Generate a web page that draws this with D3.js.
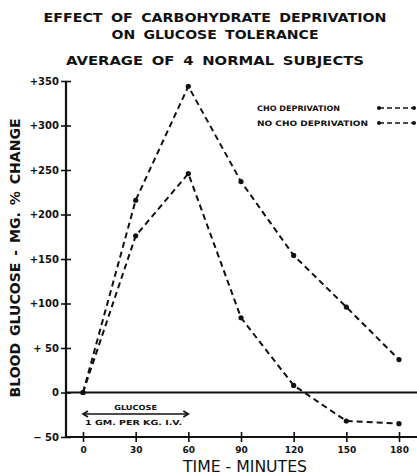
<!DOCTYPE html>
<html>
<head>
<meta charset="utf-8">
<script src="https://cdn.jsdelivr.net/npm/d3@7"></script>
<style>
  body { margin: 0; background: #fff; }
  svg text { font-family: "DejaVu Sans", "Liberation Sans", sans-serif; fill: #111; }
</style>
</head>
<body>
<div id="chart"></div>
<script>
// data
const minutes = [0, 30, 60, 90, 120, 150, 180];
const choDeprivation = [0, 216, 344, 237, 154, 96, 37];
const noChoDeprivation = [0, 176, 246, 84, 8, -32, -35];
const seriesNames = ["CHO DEPRIVATION", "NO CHO DEPRIVATION"];
const yTickValues = [-50, 0, 50, 100, 150, 200, 250, 300, 350];
const yTickLabels = ["\u2212 50", "0", "+ 50", "+100", "+150", "+200", "+250", "+300", "+350"];
const xTickLabels = ["0", "30", "60", "90", "120", "150", "180"];

const W = 417, H = 475;
const ink = "#111";

const svg = d3.select("#chart")
    .append("svg")
    .attr("width", W)
    .attr("height", H);

const x = d3.scaleLinear().domain([0, 180]).range([83, 399]);
const y = d3.scaleLinear().domain([-50, 350]).range([437, 81]);

const axisX = 66;      // where the vertical axis sits
const bottomY = y(-50);

// titles
const titles = [
    {t: "EFFECT OF CARBOHYDRATE DEPRIVATION", y: 22, len: 343},
    {t: "ON GLUCOSE TOLERANCE", y: 39, len: 207},
    {t: "AVERAGE OF 4 NORMAL SUBJECTS", y: 65, len: 298}
];
svg.selectAll(".title")
    .data(titles)
    .enter()
    .append("text")
    .attr("class", "title")
    .attr("x", 215)
    .attr("y", d => d.y)
    .attr("text-anchor", "middle")
    .attr("font-size", "12.5px")
    .attr("font-weight", "bold")
    .attr("word-spacing", "3px")
    .attr("textLength", d => d.len)
    .attr("lengthAdjust", "spacingAndGlyphs")
    .text(d => d.t);

// axis lines
svg.append("line")
    .attr("x1", axisX).attr("x2", axisX)
    .attr("y1", y(350)).attr("y2", bottomY)
    .attr("stroke", ink).attr("stroke-width", 2.2);
svg.append("line")
    .attr("x1", axisX).attr("x2", W)
    .attr("y1", bottomY).attr("y2", bottomY)
    .attr("stroke", ink).attr("stroke-width", 2.2);
svg.append("line")
    .attr("x1", axisX).attr("x2", W)
    .attr("y1", y(0)).attr("y2", y(0))
    .attr("stroke", ink).attr("stroke-width", 2);

// y axis
const gy = svg.append("g")
    .attr("transform", `translate(${axisX},0)`)
    .call(d3.axisLeft(y)
        .tickValues(yTickValues)
        .tickFormat((d, i) => yTickLabels[i])
        .tickSizeOuter(0));
gy.select(".domain").remove();
gy.selectAll(".tick line")
    .attr("x1", -5).attr("x2", 5)
    .attr("stroke", ink).attr("stroke-width", 1.6);
gy.selectAll(".tick text")
    .attr("x", -7)
    .attr("font-size", "10px")
    .attr("font-weight", "bold")
    .attr("font-family", "DejaVu Sans, sans-serif")
    .attr("fill", ink);

// x axis
const gx = svg.append("g")
    .attr("transform", `translate(0,${bottomY})`)
    .call(d3.axisBottom(x)
        .tickValues(minutes)
        .tickFormat((d, i) => xTickLabels[i])
        .tickSizeOuter(0));
gx.select(".domain").remove();
gx.selectAll(".tick line")
    .attr("y1", -5).attr("y2", 5)
    .attr("stroke", ink).attr("stroke-width", 1.6);
gx.selectAll(".tick text")
    .attr("y", 10)
    .attr("font-size", "9px")
    .attr("font-weight", "bold")
    .attr("font-family", "DejaVu Sans, sans-serif")
    .attr("fill", ink);

// axis titles
svg.append("text")
    .attr("transform", "translate(20,258) rotate(-90)")
    .attr("text-anchor", "middle")
    .attr("font-size", "14px")
    .attr("font-weight", "bold")
    .attr("word-spacing", "2px")
    .attr("textLength", 279)
    .attr("lengthAdjust", "spacingAndGlyphs")
    .text("BLOOD GLUCOSE - MG. % CHANGE");

svg.append("text")
    .attr("x", 245)
    .attr("y", 472)
    .attr("text-anchor", "middle")
    .attr("font-size", "16px")
    .attr("font-family", "Liberation Sans, sans-serif")
    .attr("textLength", 124)
    .attr("lengthAdjust", "spacingAndGlyphs")
    .text("TIME - MINUTES");

// series
const series = [choDeprivation, noChoDeprivation].map((vals, k) => ({
    name: seriesNames[k],
    points: minutes.map((m, i) => ({m: m, v: vals[i]}))
}));

const line = d3.line()
    .x(d => x(d.m))
    .y(d => y(d.v));

svg.selectAll(".series")
    .data(series)
    .enter()
    .append("path")
    .attr("class", "series")
    .attr("d", d => line(d.points))
    .attr("fill", "none")
    .attr("stroke", ink)
    .attr("stroke-width", 2)
    .attr("stroke-dasharray", "6,4");

series.forEach(s => {
    svg.selectAll(null)
        .data(s.points)
        .enter()
        .append("circle")
        .attr("cx", d => x(d.m))
        .attr("cy", d => y(d.v))
        .attr("r", 2.6)
        .attr("fill", ink);
});

// legend
const legend = svg.selectAll(".legend")
    .data(seriesNames)
    .enter()
    .append("g")
    .attr("class", "legend")
    .attr("transform", (d, i) => `translate(257,${111 + i * 15})`);
legend.append("text")
    .attr("x", 0)
    .attr("y", 0)
    .attr("font-size", "7.5px")
    .attr("font-weight", "bold")
    .attr("textLength", (d, i) => i === 0 ? 83 : 111)
    .attr("lengthAdjust", "spacingAndGlyphs")
    .text(d => d);
legend.append("line")
    .attr("x1", 122).attr("x2", 156)
    .attr("y1", -3).attr("y2", -3)
    .attr("stroke", ink)
    .attr("stroke-width", 1.6)
    .attr("stroke-dasharray", "5,3");
legend.append("circle").attr("cx", 122).attr("cy", -3).attr("r", 2).attr("fill", ink);
legend.append("circle").attr("cx", 157).attr("cy", -3).attr("r", 2).attr("fill", ink);

// glucose dose annotation
const arrowY = 414;
svg.append("line")
    .attr("x1", x(0)).attr("x2", x(60))
    .attr("y1", arrowY).attr("y2", arrowY)
    .attr("stroke", ink).attr("stroke-width", 1.6);
svg.append("path")
    .attr("d", `M${x(0) + 5},${arrowY - 3}L${x(0)},${arrowY}L${x(0) + 5},${arrowY + 3}`)
    .attr("fill", "none").attr("stroke", ink).attr("stroke-width", 1.6);
svg.append("path")
    .attr("d", `M${x(60) - 5},${arrowY - 3}L${x(60)},${arrowY}L${x(60) - 5},${arrowY + 3}`)
    .attr("fill", "none").attr("stroke", ink).attr("stroke-width", 1.6);
svg.append("text")
    .attr("x", (x(0) + x(60)) / 2)
    .attr("y", 410)
    .attr("text-anchor", "middle")
    .attr("font-size", "7px")
    .attr("font-weight", "bold")
    .attr("textLength", 43)
    .attr("lengthAdjust", "spacingAndGlyphs")
    .text("GLUCOSE");
svg.append("text")
    .attr("x", 85)
    .attr("y", 425)
    .attr("font-size", "7px")
    .attr("font-weight", "bold")
    .attr("textLength", 97)
    .attr("lengthAdjust", "spacingAndGlyphs")
    .text("1 GM. PER KG. I.V.");
</script>
</body>
</html>
